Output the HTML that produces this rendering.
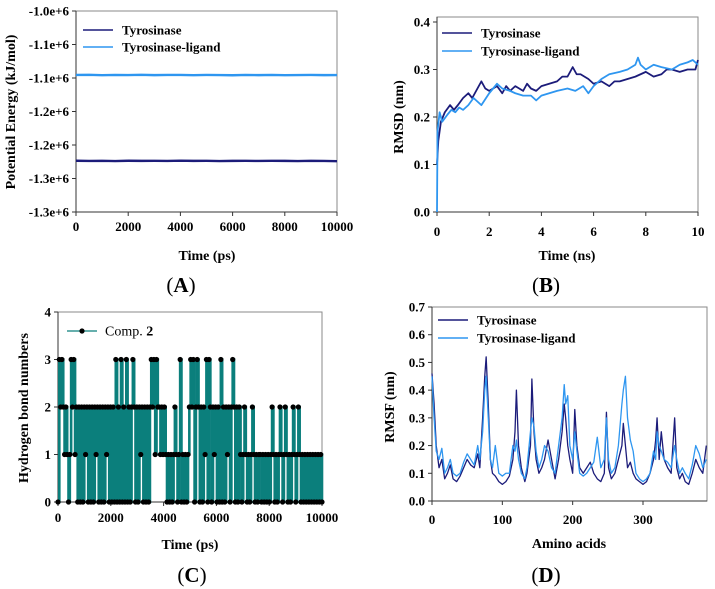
<!DOCTYPE html>
<html><head><meta charset="utf-8"><style>
body{margin:0;background:#fff;}
svg{display:block;font-family:"Liberation Serif",serif;}
.t{font-weight:bold;font-size:13px;}
</style></head><body>
<svg id="fig" width="715" height="589" viewBox="0 0 715 589"></svg>
<script>
// Panel A data
const aTime=[0,500,1000,1500,2000,2500,3000,3500,4000,4500,5000,5500,6000,6500,7000,7500,8000,8500,9000,9500,10000];
const aLigand=[-1.0955,-1.0952,-1.0958,-1.0954,-1.0956,-1.0953,-1.0957,-1.0955,-1.0954,-1.0958,-1.0955,-1.0956,-1.0959,-1.0955,-1.0957,-1.0954,-1.0958,-1.0956,-1.0955,-1.0957,-1.0956];
const aApo=[-1.2235,-1.2238,-1.2236,-1.2239,-1.2235,-1.2237,-1.2236,-1.2238,-1.2234,-1.2237,-1.2236,-1.2239,-1.2237,-1.2236,-1.2238,-1.2236,-1.2237,-1.2239,-1.2236,-1.2238,-1.2242];
const aYTicks=["-1.0e+6","-1.1e+6","-1.1e+6","-1.2e+6","-1.2e+6","-1.3e+6","-1.3e+6"];
const aXTicks=[0,2000,4000,6000,8000,10000];
// Panel B data
const bTimeApo=[0,0.05,0.15,0.3,0.5,0.65,0.8,1.0,1.2,1.35,1.5,1.7,1.85,2.0,2.3,2.5,2.65,2.8,3.0,3.3,3.45,3.6,3.8,4.0,4.3,4.6,4.8,5.0,5.2,5.35,5.5,5.8,6.0,6.3,6.6,6.8,7.0,7.3,7.6,7.8,8.0,8.3,8.6,8.8,9.0,9.3,9.6,9.9,10];
const bApo=[0.10,0.15,0.19,0.21,0.225,0.215,0.225,0.24,0.25,0.24,0.255,0.275,0.26,0.255,0.265,0.25,0.265,0.255,0.265,0.255,0.27,0.26,0.255,0.265,0.27,0.275,0.285,0.285,0.305,0.29,0.29,0.28,0.27,0.275,0.265,0.275,0.275,0.28,0.285,0.29,0.295,0.285,0.29,0.3,0.3,0.295,0.30,0.30,0.32];
const bTimeLig=[0,0.02,0.1,0.2,0.4,0.55,0.7,0.85,1.0,1.2,1.4,1.5,1.7,2.0,2.3,2.5,2.8,3.0,3.3,3.6,3.8,4.0,4.3,4.6,5.0,5.3,5.6,5.8,6.0,6.3,6.6,7.0,7.3,7.6,7.7,7.8,8.0,8.3,8.6,9.0,9.3,9.6,9.8,10];
const bLig=[0.0,0.17,0.21,0.19,0.205,0.215,0.21,0.22,0.215,0.225,0.24,0.235,0.225,0.25,0.27,0.26,0.255,0.25,0.245,0.245,0.235,0.245,0.25,0.255,0.26,0.255,0.265,0.25,0.265,0.28,0.29,0.295,0.30,0.31,0.325,0.31,0.30,0.31,0.305,0.30,0.31,0.315,0.32,0.31];
const bYTicks=["0.0","0.1","0.2","0.3","0.4"];
const bXTicks=[0,2,4,6,8,10];
// Panel C data: hydrogen bond counts, evenly sampled over 0-10000 ps
const cCounts="0323212"+"1013231"+"202020212020202120202021202020"+"30203020302023"+"202021202020"+"2323132"+"21212"+"1010101210130101"+"012"+"323023"+"202021"+"303"+"20212020"+"3"+"02021202"+"3"+"20202"+"101210101210101"+"10101010"+"1210101210121010121012"+"10101010101010101"+"0";
const cYTicks=[0,1,2,3,4];
const cXTicks=[0,2000,4000,6000,8000,10000];
// Panel D data
const dResidue=[0,3,6,10,14,18,22,26,30,35,40,45,50,55,60,65,68,72,75,77,80,83,86,90,95,100,105,110,115,118,120,123,127,132,135,140,142,145,148,152,156,160,165,170,175,180,185,188,190,193,196,200,203,206,210,215,220,225,230,235,240,245,248,251,255,260,265,270,272,275,278,282,286,290,295,300,305,310,315,318,320,323,326,330,335,340,345,348,352,356,360,365,370,375,380,385,390];
const dApo=[0.46,0.35,0.2,0.12,0.15,0.08,0.1,0.13,0.08,0.07,0.09,0.12,0.15,0.13,0.12,0.17,0.12,0.3,0.45,0.52,0.35,0.15,0.1,0.09,0.07,0.06,0.07,0.09,0.15,0.25,0.4,0.2,0.12,0.07,0.1,0.2,0.44,0.25,0.15,0.1,0.12,0.15,0.22,0.15,0.08,0.15,0.25,0.35,0.3,0.2,0.15,0.1,0.33,0.2,0.12,0.1,0.12,0.14,0.1,0.08,0.07,0.1,0.32,0.12,0.08,0.1,0.15,0.2,0.28,0.2,0.12,0.14,0.1,0.08,0.07,0.06,0.07,0.1,0.15,0.22,0.3,0.15,0.25,0.15,0.12,0.1,0.3,0.12,0.08,0.1,0.07,0.06,0.1,0.15,0.12,0.1,0.2];
const dLig=[0.45,0.3,0.18,0.15,0.19,0.1,0.12,0.15,0.1,0.09,0.1,0.14,0.17,0.15,0.13,0.2,0.15,0.25,0.4,0.45,0.3,0.15,0.12,0.2,0.1,0.09,0.1,0.1,0.2,0.18,0.22,0.15,0.1,0.08,0.12,0.25,0.3,0.27,0.18,0.12,0.15,0.2,0.18,0.12,0.1,0.2,0.3,0.42,0.35,0.38,0.2,0.15,0.25,0.18,0.1,0.09,0.1,0.12,0.14,0.23,0.12,0.15,0.3,0.15,0.1,0.12,0.2,0.35,0.4,0.45,0.3,0.22,0.18,0.1,0.08,0.07,0.08,0.1,0.18,0.15,0.25,0.2,0.18,0.15,0.14,0.12,0.2,0.15,0.1,0.12,0.1,0.08,0.13,0.2,0.17,0.12,0.15];
const dYTicks=["0.0","0.1","0.2","0.3","0.4","0.5","0.6","0.7"];
const dXTicks=[0,100,200,300];

const NS="http://www.w3.org/2000/svg";
const svg=document.getElementById('fig');
function mk(tag,attrs,parent,text){const e=document.createElementNS(NS,tag);for(const k in attrs)e.setAttribute(k,attrs[k]);if(text!==undefined)e.textContent=text;(parent||svg).appendChild(e);return e;}
function lin(d0,d1,r0,r1){return v=>r0+(v-d0)/(d1-d0)*(r1-r0);}
const DARK="#1c1c7a", LIGHT="#2e96f0";

function frame(g,x0,y0,x1,y1){
  const r=mk('rect',{x:x0,y:y0,width:x1-x0,height:y1-y0,fill:'none',stroke:'#8a8a8a','stroke-width':1},g);
  
  
  mk('line',{x1:x0,y1:y0,x2:x0,y2:y1+4,stroke:'#333'},g);
  mk('line',{x1:x0-4,y1:y1,x2:x1,y2:y1,stroke:'#333'},g);
}
function yTicks(g,labels,fy,x0,vals){
  labels.forEach((l,i)=>{const y=fy(vals[i]);
    mk('line',{x1:x0-4,y1:y,x2:x0,y2:y,stroke:'#333'},g);
    const t=mk('text',{x:x0-7,y:y+4.5,'text-anchor':'end',class:'t'},g,l);
    
    });
}
function xTicks(g,vals,fx,y1,ty){
  vals.forEach(v=>{const x=fx(v);
    mk('line',{x1:x,y1:y1,x2:x,y2:y1+4,stroke:'#333'},g);
    const t=mk('text',{x:x,y:ty,'text-anchor':'middle',class:'t'},g,String(v));
    
    });
}
function poly(g,xs,ys,fx,fy,color,w,name){
  const p=mk('polyline',{points:xs.map((x,i)=>fx(x)+','+fy(ys[i])).join(' '),fill:'none',stroke:color,'stroke-width':w,'stroke-linejoin':'round'},g);
  
  
}
function title(g,txt,x,y,rot,name){
  const t=mk('text',{x:x,y:y,'text-anchor':'middle','font-weight':'bold','font-size':'14px',transform:rot?`rotate(-90 ${x} ${y})`:''},g,txt);
  
  
}
function letter(g,L,x,y){
  const t=mk('text',{x:x,y:y,'text-anchor':'middle','font-size':'21px'},g);
  mk('tspan',{},t,'(');mk('tspan',{'font-weight':'bold'},t,L);mk('tspan',{},t,')');
  
  
}
function legend(g,x,y,color,txt,name){
  const l=mk('g',{},g);
  
  
  mk('line',{x1:x,y1:y,x2:x+30,y2:y,stroke:color,'stroke-width':1.5},l);
  mk('text',{x:x+39,y:y+4.5,class:'t','font-size':'14px'},l,txt);
}

// Panel A
{const g=mk('g',{});
 const x0=76,x1=337,y0=11,y1=212;
 const fx=lin(0,10000,x0,x1), fy=lin(-1.0,-1.3,y0,y1);
 frame(g,x0,y0,x1,y1);
 yTicks(g,aYTicks,fy,x0,aYTicks.map((_,i)=>-1.0-0.05*i));
 xTicks(g,aXTicks,fx,y1,231);
 poly(g,aTime,aLigand,fx,fy,LIGHT,2.4,'series-tyrosinase-ligand');
 poly(g,aTime,aApo,fx,fy,DARK,2.4,'series-tyrosinase');
 legend(g,83,30,DARK,'Tyrosinase','legend-entry-tyrosinase');
 legend(g,83,47,LIGHT,'Tyrosinase-ligand','legend-entry-tyrosinase-ligand');
 title(g,'Time (ps)',207,260,false,'x-axis-title');
 title(g,'Potential Energy (kJ/mol)',15,112,true,'y-axis-title');
 letter(g,'A',181,292);}

// Panel B
{const g=mk('g',{});
 const x0=437,x1=698,y0=17,y1=212;
 const fx=lin(0,10,x0,x1), fy=lin(0,0.4,y1,22);
 frame(g,x0,y0,x1,y1);
 yTicks(g,bYTicks,fy,x0,[0,0.1,0.2,0.3,0.4]);
 xTicks(g,bXTicks,fx,y1,236);
 poly(g,bTimeApo,bApo,fx,fy,DARK,1.8,'series-tyrosinase');
 poly(g,bTimeLig,bLig,fx,fy,LIGHT,1.8,'series-tyrosinase-ligand');
 legend(g,442,33,DARK,'Tyrosinase','legend-entry-tyrosinase');
 legend(g,442,51,LIGHT,'Tyrosinase-ligand','legend-entry-tyrosinase-ligand');
 title(g,'Time (ns)',567,260,false,'x-axis-title');
 title(g,'RMSD (nm)',403,117,true,'y-axis-title');
 letter(g,'B',546,292);}

// Panel C
{const g=mk('g',{});
 const x0=58,x1=322,y0=312,y1=502;
 const fx=lin(0,10000,x0,x1), fy=lin(0,4,y1,y0);
 frame(g,x0,y0,x1,y1);
 yTicks(g,cYTicks.map(String),fy,x0,cYTicks);
 xTicks(g,cXTicks,fx,y1,522);
 const vals=cCounts.split('').map(Number);
 const step=10000/(vals.length-1);
 let d='';
 vals.forEach((v,i)=>{const x=fx(i*step);
   if(i===0) d+=`M${x},${fy(v)}`; else d+=`L${x},${fy(vals[i-1])}L${x},${fy(v)}`;});
 const pl=mk('path',{d:d,fill:'none',stroke:'#0b7f7c','stroke-width':2.6},g);
 
 
 vals.forEach((v,i)=>{const c=mk('circle',{cx:fx(i*step),cy:fy(v),r:2.6,fill:'#000'},g);
   
   });
 const l=mk('g',{},g);
 
 
 mk('line',{x1:67,y1:331,x2:97,y2:331,stroke:'#0b7f7c','stroke-width':1.2},l);
 mk('circle',{cx:82,cy:331,r:2.6,fill:'#000'},l);
 const lt=mk('text',{x:105,y:335.5,'font-size':'14px'},l,'Comp. ');
 mk('tspan',{'font-weight':'bold'},lt,'2');
 title(g,'Time (ps)',190,549,false,'x-axis-title');
 title(g,'Hydrogen bond numbers',28,408,true,'y-axis-title');
 letter(g,'C',192,582);}

// Panel D
{const g=mk('g',{});
 const x0=432,x1=707,y0=307,y1=501;
 const fx=lin(0,300,x0,643), fy=lin(0,0.7,y1,y0);
 frame(g,x0,y0,x1,y1);
 yTicks(g,dYTicks,fy,x0,dYTicks.map(Number));
 xTicks(g,dXTicks,fx,y1,524);
 poly(g,dResidue,dApo,fx,fy,DARK,1.3,'series-tyrosinase');
 poly(g,dResidue,dLig,fx,fy,LIGHT,1.3,'series-tyrosinase-ligand');
 legend(g,438,320,DARK,'Tyrosinase','legend-entry-tyrosinase');
 legend(g,438,338,LIGHT,'Tyrosinase-ligand','legend-entry-tyrosinase-ligand');
 title(g,'Amino acids',569,548,false,'x-axis-title');
 title(g,'RMSF (nm)',394,407,true,'y-axis-title');
 letter(g,'D',546,582);}
</script>
</body></html>
